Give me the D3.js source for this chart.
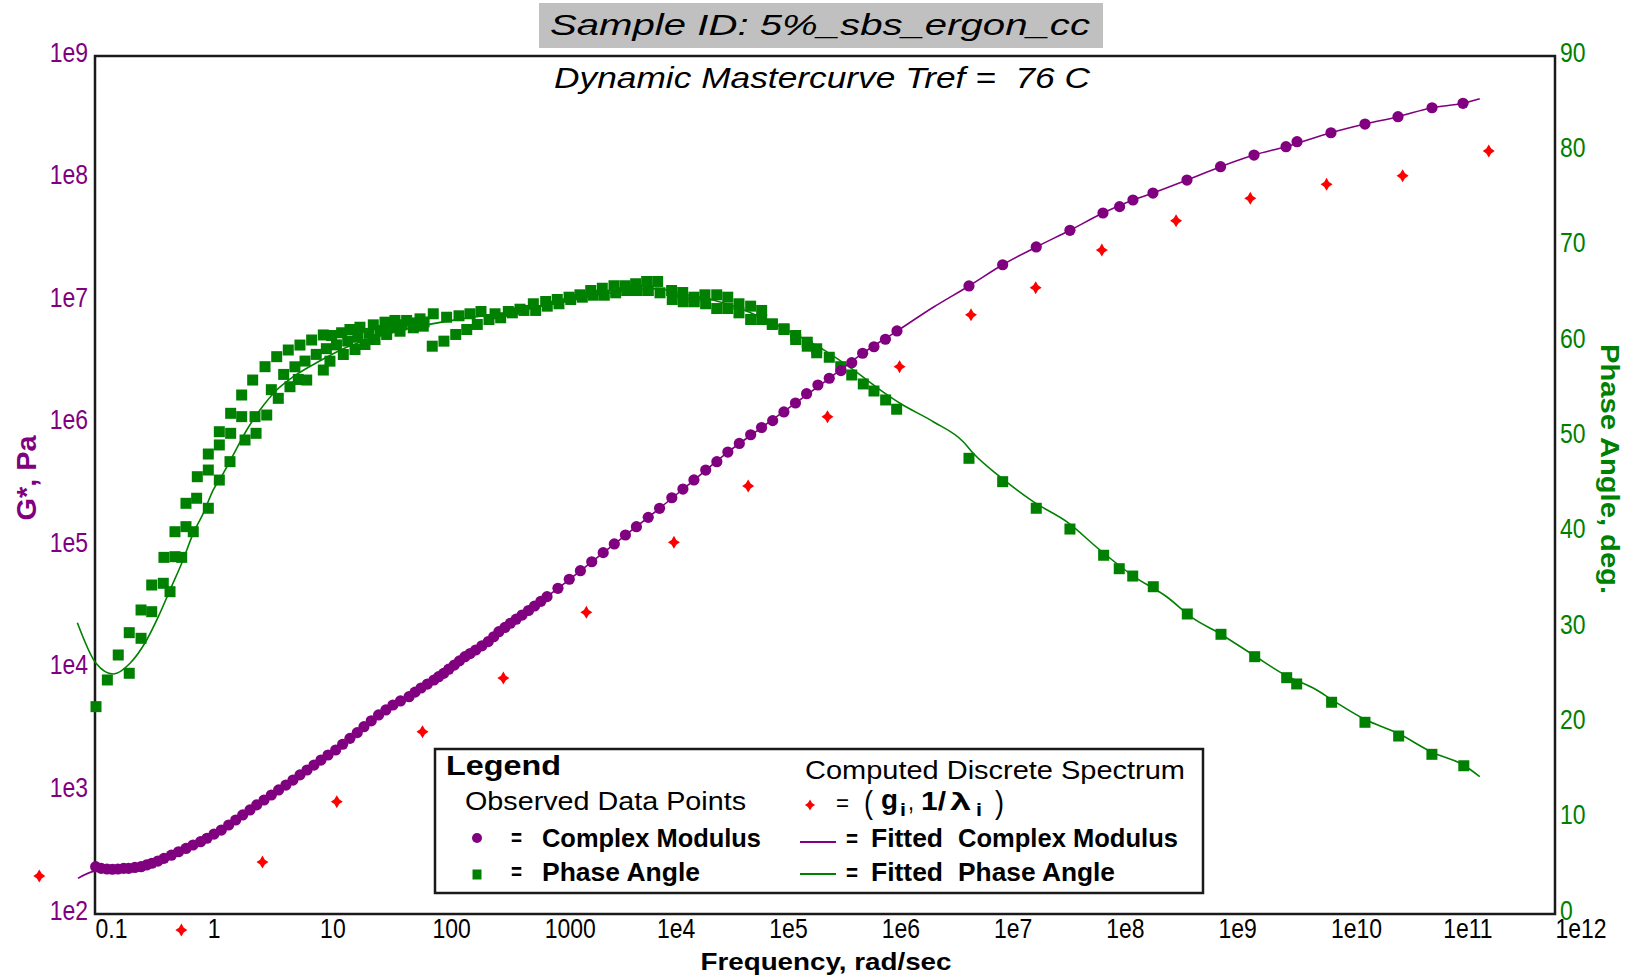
<!DOCTYPE html>
<html>
<head>
<meta charset="utf-8">
<script src="https://cdn.jsdelivr.net/npm/d3@7"></script>
<style>
  html, body { margin: 0; padding: 0; background: #fff; }
  svg { display: block; }
</style>
</head>
<body>
<svg id="chart" width="1634" height="979"></svg>
<script>
// Dynamic master curve at Tref = 76 C.
// Frequencies are stored as log10(rad/sec), |G*| as log10(Pa), phase angle in degrees.

// Observed complex modulus, first overlapping run set plus high-frequency points
const modulusObsMain = [
  [-0.994, 2.386], [-0.893, 2.367], [-0.796, 2.367], [-0.701, 2.373], [-0.590, 2.386],
  [-0.494, 2.414], [-0.386, 2.454], [-0.256, 2.508], [-0.127, 2.563], [-0.003, 2.618],
  [0.125, 2.685], [0.253, 2.767], [0.380, 2.849], [0.505, 2.930], [0.635, 3.012],
  [0.763, 3.093], [0.888, 3.175], [1.012, 3.256], [1.143, 3.338], [1.270, 3.433],
  [1.395, 3.528], [1.525, 3.624], [1.653, 3.705], [1.796, 3.773], [1.903, 3.844],
  [2.018, 3.909], [2.104, 3.963], [2.199, 4.031], [2.294, 4.099], [2.390, 4.154],
  [2.501, 4.222], [2.596, 4.303], [2.699, 4.372], [2.803, 4.439], [2.914, 4.513],
  [3.025, 4.589], [3.122, 4.657], [3.223, 4.731], [3.322, 4.801], [3.423, 4.874],
  [3.525, 4.948], [3.624, 5.019], [3.723, 5.092], [3.821, 5.160], [3.926, 5.236],
  [4.027, 5.310], [4.136, 5.396], [4.235, 5.467], [4.333, 5.541], [4.438, 5.622],
  [4.537, 5.690], [4.635, 5.769], [4.737, 5.839], [4.838, 5.910], [4.935, 5.969],
  [5.034, 6.025], [5.134, 6.096], [5.237, 6.169], [5.336, 6.245], [5.437, 6.316],
  [5.538, 6.371], [5.642, 6.433], [5.738, 6.498], [5.835, 6.575], [5.936, 6.628],
  [6.038, 6.689], [6.141, 6.757],
  [6.782, 7.124], [7.082, 7.297], [7.381, 7.442], [7.681, 7.578], [7.975, 7.719],
  [8.123, 7.771], [8.242, 7.825], [8.420, 7.882], [8.723, 7.988], [9.022, 8.097],
  [9.320, 8.192], [9.605, 8.260], [9.703, 8.301], [10.005, 8.374], [10.308, 8.445],
  [10.602, 8.505], [10.905, 8.578], [11.181, 8.614]
];

// Observed complex modulus, second overlapping run set (low frequencies)
const modulusObsOverlap = [
  [-0.945, 2.372], [-0.845, 2.365], [-0.745, 2.372], [-0.645, 2.380], [-0.540, 2.400],
  [-0.440, 2.432], [-0.320, 2.480], [-0.190, 2.535], [-0.060, 2.590], [0.060, 2.652],
  [0.190, 2.726], [0.315, 2.808], [0.440, 2.890], [0.570, 2.971], [0.700, 3.052],
  [0.825, 3.135], [0.950, 3.215], [1.075, 3.297], [1.205, 3.385], [1.335, 3.480],
  [1.460, 3.576], [1.590, 3.665], [1.720, 3.738], [1.850, 3.810], [1.960, 3.876],
  [2.060, 3.936], [2.150, 3.997], [2.245, 4.065], [2.340, 4.125], [2.445, 4.188],
  [2.550, 4.262], [2.650, 4.338], [2.750, 4.405], [2.860, 4.476], [2.970, 4.551]
];

// Observed phase angle, low-frequency end
const phaseObsLow = [
  [-0.991, 21.75], [-0.890, 24.55], [-0.793, 27.17], [-0.695, 25.25], [-0.695, 29.51],
  [-0.590, 28.92], [-0.590, 31.89], [-0.495, 31.71], [-0.495, 34.51], [-0.392, 34.69],
  [-0.332, 33.81], [-0.386, 37.41], [-0.288, 37.48], [-0.228, 37.41], [-0.288, 40.10],
  [-0.190, 40.63], [-0.125, 40.10], [-0.190, 43.08], [-0.095, 43.61], [0.009, 42.56],
  [-0.089, 45.87], [0.009, 46.57], [0.107, 45.52], [0.009, 48.25], [0.107, 49.20],
  [0.202, 47.45], [0.107, 50.59], [0.208, 52.52], [0.208, 50.42], [0.306, 52.17],
  [0.306, 54.44], [0.404, 56.01], [0.434, 50.42], [0.336, 49.72], [0.425, 52.17],
  [0.529, 52.34], [0.514, 57.41], [0.618, 58.46], [0.632, 54.09], [0.736, 55.31],
  [0.721, 59.16], [0.825, 59.68], [0.885, 56.01], [0.929, 60.21], [1.033, 60.74],
  [1.033, 57.06], [0.810, 56.07]
];

// Observed phase angle, upper edge of the overlapping band
const phaseObsUpper = [
  [1.107, 60.68], [1.196, 60.97], [1.270, 61.31], [1.359, 61.55], [1.478, 61.80],
  [1.582, 62.08], [1.671, 62.26], [1.775, 62.26], [1.894, 62.43], [2.012, 62.96],
  [2.131, 62.60], [2.241, 62.75], [2.339, 62.96], [2.437, 63.20], [2.562, 62.96],
  [2.680, 63.20], [2.784, 63.44], [2.903, 64.01], [3.013, 64.25], [3.116, 64.46],
  [3.221, 64.70], [3.318, 64.95], [3.414, 65.40], [3.517, 65.64], [3.621, 65.90],
  [3.719, 65.90], [3.814, 66.11], [3.912, 66.35], [4.010, 66.35], [4.134, 65.40],
  [4.233, 65.19], [4.333, 64.70], [4.431, 64.95], [4.536, 64.95], [4.634, 64.70],
  [4.734, 64.01], [4.838, 63.76], [4.936, 63.31], [5.031, 61.91], [5.135, 61.39],
  [5.239, 60.68], [5.342, 59.98], [5.426, 59.29]
];

// Observed phase angle, middle of the overlapping band
const phaseObsMiddle = [
  [0.570, 55.00], [0.680, 56.60], [0.780, 57.40], [0.870, 58.00], [0.970, 58.70],
  [1.060, 59.30], [1.150, 59.70], [1.250, 60.10], [1.340, 60.50], [1.440, 60.90],
  [1.540, 61.20], [1.630, 61.50], [1.730, 61.80], [1.830, 62.00], [1.930, 62.10]
];

// Observed phase angle, lower edge of the overlapping band
const phaseObsLower = [
  [1.092, 57.99], [1.211, 58.69], [1.315, 59.21], [1.404, 59.74], [1.493, 60.26],
  [1.597, 60.79], [1.716, 61.13], [1.834, 61.49], [1.923, 61.66], [2.003, 59.56],
  [2.107, 60.09], [2.212, 60.79], [2.310, 61.31], [2.404, 61.84], [2.508, 62.36],
  [2.612, 62.54], [2.716, 63.06], [2.820, 63.31], [2.924, 63.31], [3.027, 63.76],
  [3.131, 64.01], [3.236, 64.46], [3.339, 64.70], [3.437, 64.91], [3.535, 64.91],
  [3.636, 65.16], [3.734, 65.40], [3.829, 65.40], [3.927, 65.40], [4.031, 65.16],
  [4.140, 64.46], [4.238, 64.22], [4.336, 64.22], [4.437, 64.01], [4.536, 63.51],
  [4.634, 63.51], [4.734, 63.06], [4.838, 62.36], [4.936, 62.36], [5.031, 61.84],
  [5.135, 61.31], [5.239, 60.26], [5.342, 59.56], [5.426, 58.87]
];

// Observed phase angle, high-frequency end
const phaseObsHigh = [
  [5.538, 58.40], [5.640, 57.41], [5.738, 56.54], [5.841, 55.60], [5.936, 54.86],
  [6.040, 53.92], [6.138, 52.95],
  [6.782, 47.80], [7.082, 45.35], [7.381, 42.56], [7.681, 40.38], [7.981, 37.63],
  [8.120, 36.22], [8.240, 35.45], [8.423, 34.33], [8.726, 31.47], [9.026, 29.34],
  [9.326, 26.99], [9.611, 24.79], [9.700, 24.13], [10.011, 22.21], [10.308, 20.11],
  [10.608, 18.67], [10.904, 16.75], [11.188, 15.55]
];

// Fitted complex modulus curve
const modulusFit = [
  [-1.152, 2.291], [-0.994, 2.352], [-0.796, 2.362], [-0.590, 2.380], [-0.386, 2.445],
  [-0.127, 2.555], [0.125, 2.680], [0.380, 2.845], [0.635, 3.008], [0.888, 3.172],
  [1.143, 3.336], [1.395, 3.526], [1.653, 3.700], [1.903, 3.842], [2.199, 4.030],
  [2.501, 4.220], [2.803, 4.438], [3.122, 4.656], [3.423, 4.873], [3.723, 5.090],
  [4.027, 5.310], [4.333, 5.540], [4.635, 5.768], [4.935, 5.968], [5.237, 6.168],
  [5.538, 6.370], [5.835, 6.574], [6.141, 6.756], [6.464, 6.950], [6.782, 7.124],
  [7.082, 7.297], [7.381, 7.442], [7.681, 7.578], [7.975, 7.719], [8.242, 7.825],
  [8.420, 7.882], [8.723, 7.988], [9.022, 8.097], [9.320, 8.192], [9.605, 8.260],
  [10.005, 8.374], [10.308, 8.445], [10.602, 8.505], [10.905, 8.578], [11.181, 8.614],
  [11.330, 8.652]
];

// Fitted phase angle curve
const phaseFit = [
  [-1.157, 30.56], [-0.991, 26.30], [-0.837, 25.17], [-0.688, 26.30], [-0.540, 28.74],
  [-0.436, 31.19], [-0.332, 33.99], [-0.228, 36.79], [-0.125, 39.93], [-0.036, 42.03],
  [0.053, 44.48], [0.142, 46.23], [0.231, 48.15], [0.351, 50.77], [0.469, 52.87],
  [0.618, 54.97], [0.766, 56.36], [1.000, 58.00], [1.250, 59.50], [1.500, 60.50],
  [1.750, 61.30], [2.000, 61.90], [2.250, 62.40], [2.500, 62.80], [2.750, 63.20],
  [3.000, 63.80], [3.250, 64.40], [3.500, 65.00], [3.750, 65.40], [4.000, 65.60],
  [4.250, 65.00], [4.500, 64.40], [4.750, 63.50], [5.000, 62.20], [5.250, 60.70],
  [5.500, 59.10], [5.750, 57.10], [6.000, 54.90], [6.168, 53.57], [6.464, 51.64],
  [6.731, 49.54], [6.820, 48.33], [7.058, 45.87], [7.354, 43.25], [7.652, 41.15],
  [7.948, 38.18], [8.245, 35.45], [8.542, 33.28], [8.779, 31.00], [9.017, 29.40],
  [9.313, 27.17], [9.611, 24.97], [9.878, 23.50], [10.010, 22.50], [10.310, 20.40],
  [10.610, 18.90], [10.900, 17.00], [11.190, 15.60], [11.330, 14.40]
];

// Computed discrete relaxation spectrum (g_i, 1/lambda_i)
const spectrumLogFreq = [-1.496, -0.231, 0.491, 1.153, 1.916, 2.636, 3.375, 4.155, 4.816, 5.522,
                         6.164, 6.800, 7.376, 7.965, 8.626, 9.287, 9.966, 10.643, 11.410];
const spectrumLogG    = [2.310, 1.869, 2.424, 2.916, 3.487, 3.925, 4.461, 5.032, 5.492, 6.057,
                         6.465, 6.888, 7.110, 7.417, 7.656, 7.839, 7.953, 8.023, 8.225];

// Axis ticks
const freqTickValues = [0.1, 1, 10, 100, 1000, 1e4, 1e5, 1e6, 1e7, 1e8, 1e9, 1e10, 1e11, 1e12];
const freqTickLabels = ["0.1", "1", "10", "100", "1000", "1e4", "1e5", "1e6", "1e7", "1e8", "1e9", "1e10", "1e11", "1e12"];
const modulusTickValues = [1e2, 1e3, 1e4, 1e5, 1e6, 1e7, 1e8, 1e9];
const modulusTickLabels = ["1e2", "1e3", "1e4", "1e5", "1e6", "1e7", "1e8", "1e9"];
const phaseTickValues = [0, 10, 20, 30, 40, 50, 60, 70, 80, 90];

// ---------------------------------------------------------------------------
const PURPLE = "#800080", GREEN = "#008000", RED = "#ff0000", INK = "#1a1a1a";
const SANS = "'Liberation Sans', Arial, sans-serif";

const svg = d3.select("#chart");
svg.append("rect").attr("width", 1634).attr("height", 979).attr("fill", "#fff");

const x = d3.scaleLog().domain([0.1, 1e12]).range([95, 1555]);
const yG = d3.scaleLog().domain([1e2, 1e9]).range([914, 56]);
const yP = d3.scaleLinear().domain([0, 90]).range([914, 56]);

const px = d => x(Math.pow(10, d[0]));
const pyG = d => yG(Math.pow(10, d[1]));
const pyP = d => yP(d[1]);

function label(parent, s, o) {
  const t = parent.append("text")
    .attr("x", o.x).attr("y", o.y)
    .attr("font-family", o.family || SANS)
    .attr("font-size", o.size)
    .attr("font-weight", o.weight || "normal")
    .attr("font-style", o.italic ? "italic" : "normal")
    .attr("fill", o.fill || "#000")
    .attr("text-anchor", o.anchor || "start")
    .text(s);
  if (o.width) t.attr("textLength", o.width).attr("lengthAdjust", "spacingAndGlyphs");
  if (o.rotate) t.attr("transform", `rotate(${o.rotate},${o.x},${o.y})`);
  return t;
}

// Condense tick labels horizontally to a narrow face
function narrowTicks(g, color, anchor, dx, dy) {
  g.select(".domain").remove();
  g.attr("font-family", SANS).attr("font-size", 28);
  g.selectAll("text").attr("x", dx).attr("y", dy).attr("dy", null).attr("fill", color);
  if (anchor) g.selectAll("text").attr("text-anchor", anchor);
  g.selectAll("text").each(function () {
    const w = this.getComputedTextLength();
    d3.select(this).attr("textLength", w * 0.82).attr("lengthAdjust", "spacingAndGlyphs");
  });
}

// Title box
svg.append("rect").attr("x", 539).attr("y", 3).attr("width", 564).attr("height", 45).attr("fill", "#c0c0c0");
label(svg, "Sample ID: 5%_sbs_ergon_cc", { x: 820, y: 35, size: 29, italic: true, anchor: "middle", width: 540 });

// Plot frame
svg.append("rect").attr("x", 95).attr("y", 56).attr("width", 1460).attr("height", 858)
  .attr("fill", "none").attr("stroke", INK).attr("stroke-width", 2.5);

label(svg, "Dynamic Mastercurve Tref =\u00a0\u00a076 C", { x: 822, y: 88, size: 30, italic: true, anchor: "middle", width: 536 });

// Axes
const fmtFreq = new Map(freqTickValues.map((v, i) => [v, freqTickLabels[i]]));
const fmtG = new Map(modulusTickValues.map((v, i) => [v, modulusTickLabels[i]]));

svg.append("g").attr("transform", "translate(0,914)")
  .call(d3.axisBottom(x).tickValues(freqTickValues).tickFormat(d => fmtFreq.get(d)).tickSize(0))
  .call(g => narrowTicks(g, "#000", "start", 0, 24));

svg.append("g").attr("transform", "translate(95,0)")
  .call(d3.axisLeft(yG).tickValues(modulusTickValues).tickFormat(d => fmtG.get(d)).tickSize(0))
  .call(g => narrowTicks(g, PURPLE, "end", -7, 5));

svg.append("g").attr("transform", "translate(1555,0)")
  .call(d3.axisRight(yP).tickValues(phaseTickValues).tickFormat(d3.format("d")).tickSize(0))
  .call(g => narrowTicks(g, GREEN, "start", 5, 5));

// Axis titles
label(svg, "Frequency, rad/sec", { x: 826, y: 970, size: 24, weight: "bold", anchor: "middle", width: 251 });
label(svg, "G*, Pa", { x: 36, y: 478, size: 28, weight: "bold", anchor: "middle", fill: PURPLE, width: 85, rotate: -90 });
label(svg, "Phase Angle, deg.", { x: 1601, y: 469, size: 26, weight: "bold", anchor: "middle", fill: GREEN, width: 250, rotate: 90 });

// Marker shapes
const SQ = 11;
const diamondPath = "M0,-6.5 L2.4,-2.4 L6,0 L2.4,2.4 L0,6.5 L-2.4,2.4 L-6,0 L-2.4,-2.4Z";

// Observed phase angle
const phaseObs = [].concat(phaseObsLow, phaseObsMiddle, phaseObsLower, phaseObsUpper, phaseObsHigh);
svg.append("g").selectAll("rect").data(phaseObs).join("rect")
  .attr("x", d => px(d) - SQ / 2).attr("y", d => pyP(d) - SQ / 2)
  .attr("width", SQ).attr("height", SQ).attr("fill", GREEN);

// Fitted phase angle
svg.append("path").datum(phaseFit)
  .attr("d", d3.line().x(px).y(pyP).curve(d3.curveMonotoneX))
  .attr("fill", "none").attr("stroke", GREEN).attr("stroke-width", 1.6);

// Observed complex modulus
const modulusObs = modulusObsMain.concat(modulusObsOverlap);
svg.append("g").selectAll("circle").data(modulusObs).join("circle")
  .attr("cx", px).attr("cy", pyG).attr("r", 5.6).attr("fill", PURPLE);

// Fitted complex modulus
svg.append("path").datum(modulusFit)
  .attr("d", d3.line().x(px).y(pyG).curve(d3.curveMonotoneX))
  .attr("fill", "none").attr("stroke", PURPLE).attr("stroke-width", 1.6);

// Discrete spectrum
const spectrum = spectrumLogFreq.map((f, i) => [f, spectrumLogG[i]]);
svg.append("g").selectAll("path").data(spectrum).join("path")
  .attr("transform", d => `translate(${px(d)},${pyG(d)})`)
  .attr("d", diamondPath).attr("fill", RED);

// Legend
const lg = svg.append("g");
lg.append("rect").attr("x", 435).attr("y", 749).attr("width", 768).attr("height", 144)
  .attr("fill", "#fff").attr("stroke", INK).attr("stroke-width", 2.5);
label(lg, "Legend", { x: 446, y: 775, size: 28, weight: "bold", width: 115 });
label(lg, "Observed Data Points", { x: 465, y: 810, size: 26, width: 281 });
label(lg, "Computed Discrete Spectrum", { x: 805, y: 779, size: 26, width: 380 });

lg.append("path").attr("transform", "translate(810,805) scale(0.85)").attr("d", diamondPath).attr("fill", RED);
label(lg, "=", { x: 836, y: 811, size: 24, width: 13 });
label(lg, "(", { x: 864, y: 813, size: 31, width: 9 });
label(lg, "g", { x: 881, y: 809, size: 28, weight: "bold", width: 17 });
label(lg, "i", { x: 900, y: 816, size: 18, weight: "bold", width: 6 });
label(lg, ",", { x: 908, y: 810, size: 26, width: 6 });
label(lg, "1/", { x: 921, y: 810, size: 26, weight: "bold", width: 25 });
label(lg, "λ", { x: 950, y: 810, size: 24, weight: "bold", width: 21 });
label(lg, "i", { x: 976, y: 816, size: 18, weight: "bold", width: 6 });
label(lg, ")", { x: 995, y: 813, size: 31, width: 9 });

lg.append("circle").attr("cx", 477).attr("cy", 838).attr("r", 5).attr("fill", PURPLE);
lg.append("rect").attr("x", 472.5).attr("y", 869.5).attr("width", 9).attr("height", 10).attr("fill", GREEN);
label(lg, "=", { x: 511, y: 846, size: 24, weight: "bold", width: 11 });
label(lg, "=", { x: 511, y: 880, size: 24, weight: "bold", width: 11 });
label(lg, "Complex Modulus", { x: 542, y: 847, size: 25, weight: "bold", width: 219 });
label(lg, "Phase Angle", { x: 542, y: 881, size: 25, weight: "bold", width: 158 });

lg.append("line").attr("x1", 800).attr("x2", 836).attr("y1", 842).attr("y2", 842).attr("stroke", PURPLE).attr("stroke-width", 1.8);
lg.append("line").attr("x1", 800).attr("x2", 836).attr("y1", 874).attr("y2", 874).attr("stroke", GREEN).attr("stroke-width", 1.8);
label(lg, "=", { x: 846, y: 847, size: 24, weight: "bold", width: 12 });
label(lg, "=", { x: 846, y: 881, size: 24, weight: "bold", width: 12 });
label(lg, "Fitted", { x: 871, y: 847, size: 25, weight: "bold", width: 72 });
label(lg, "Fitted", { x: 871, y: 881, size: 25, weight: "bold", width: 72 });
label(lg, "Complex Modulus", { x: 958, y: 847, size: 25, weight: "bold", width: 220 });
label(lg, "Phase Angle", { x: 958, y: 881, size: 25, weight: "bold", width: 157 });
</script>
</body>
</html>
